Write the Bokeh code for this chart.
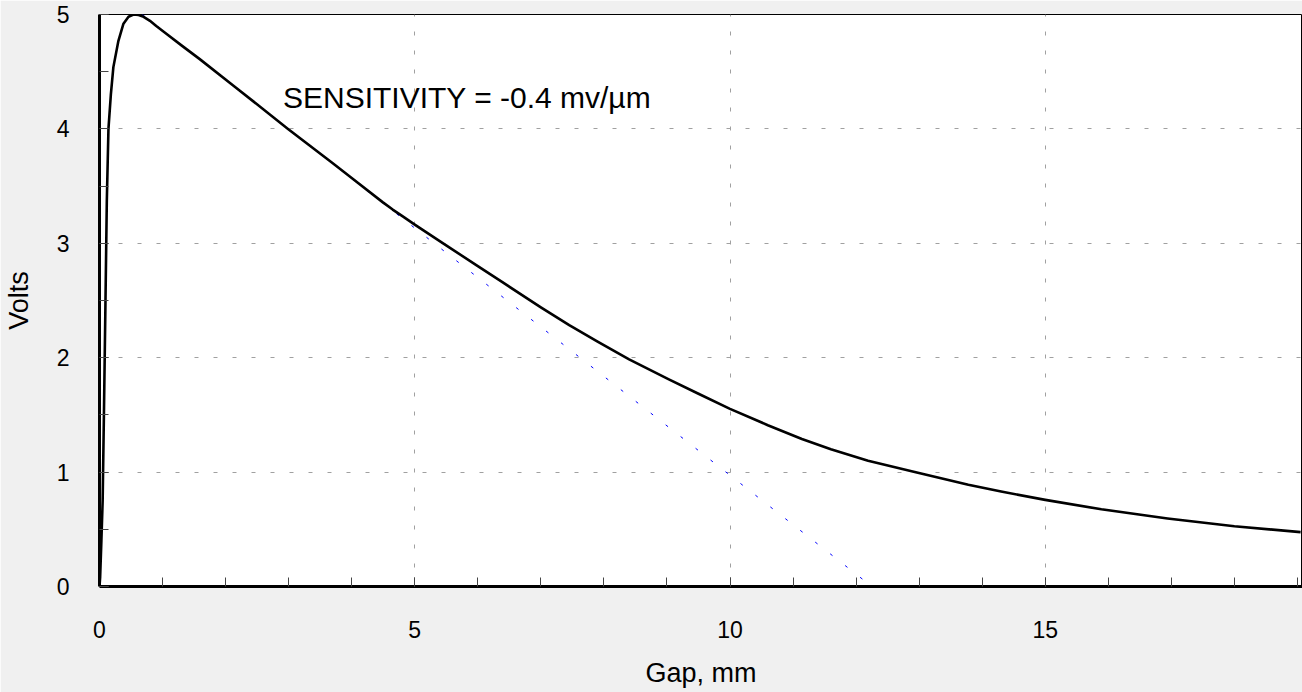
from bokeh.plotting import figure
from bokeh.models import SingleIntervalTicker, Label, Range1d
from bokeh.embed import file_html
from bokeh.resources import INLINE

# Measured response curve (Gap in mm, output in Volts)
gap_mm = [0, 0.01, 0.03, 0.05, 0.07, 0.095, 0.116, 0.142, 0.18, 0.22, 0.30, 0.38,
          0.46, 0.54, 0.62, 0.70, 0.80, 0.90, 1.065, 1.3, 1.59, 2.12, 2.99, 3.70,
          4.0, 4.49, 4.65, 4.81, 5.0, 5.45, 6.0, 6.39, 7.0, 7.45, 7.9, 8.40, 9.03,
          9.5, 10.0, 10.6, 11.14, 11.6, 12.19, 12.93, 13.78, 14.3, 15.0, 15.89,
          16.94, 18.0, 19.05]
volts = [0, 0.08, 0.4, 0.75, 1.5, 2.5, 3.37, 4.0, 4.3, 4.54, 4.77, 4.92,
         4.98, 5.0, 4.995, 4.98, 4.945, 4.90, 4.83, 4.73, 4.61, 4.38, 4.0, 3.70,
         3.57, 3.36, 3.295, 3.235, 3.163, 3.0, 2.80, 2.66, 2.44, 2.285, 2.14, 1.985,
         1.81, 1.685, 1.553, 1.41, 1.29, 1.20, 1.10, 1.0, 0.89, 0.83, 0.757, 0.675,
         0.595, 0.527, 0.475]

# Linear sensitivity fit line
fit_gap = [0.68, 12.25]
fit_volts = [5.0, 0.0]

annotation_text = "SENSITIVITY = -0.4 mv/\u00b5m"
annotation_pos = (2.91, 4.275)
x_label = "Gap, mm"
y_label = "Volts"

FONT = "Liberation Sans"

p = figure(width=1302, height=692, output_backend="svg", toolbar_location=None,
           x_range=Range1d(0, 19.08), y_range=Range1d(0, 5),
           min_border_left=96, min_border_right=0, min_border_top=14,
           min_border_bottom=106)

p.background_fill_color = "white"
p.border_fill_color = "#f0f0f0"
p.outline_line_color = "black"
p.outline_line_width = 1

p.line(fit_gap, fit_volts, line_color="#0000ff", line_width=1, line_dash="3 16")
p.line(gap_mm, volts, line_color="black", line_width=2.6, line_join="round")

p.xaxis.ticker = SingleIntervalTicker(interval=5, num_minor_ticks=5)
p.yaxis.ticker = SingleIntervalTicker(interval=1, num_minor_ticks=2)

for ax in (p.xaxis[0], p.yaxis[0]):
    ax.axis_line_color = "black"
    ax.axis_line_width = 3
    ax.major_tick_in = 9
    ax.major_tick_out = 0
    ax.minor_tick_in = 9
    ax.minor_tick_out = 0
    ax.major_tick_line_color = "#444444"
    ax.minor_tick_line_color = "#444444"
    ax.major_tick_line_width = 1
    ax.minor_tick_line_width = 1
    ax.major_label_text_font = FONT
    ax.major_label_text_font_size = "23px"
    ax.major_label_text_color = "black"
    ax.axis_label_text_font = FONT
    ax.axis_label_text_font_size = "27px"
    ax.axis_label_text_font_style = "normal"
    ax.axis_label_text_color = "black"

p.xaxis.axis_label = x_label
p.yaxis.axis_label = y_label
p.xaxis.major_label_standoff = 34
p.xaxis.axis_label_standoff = 17
p.yaxis.major_label_standoff = 30
p.yaxis.axis_label_standoff = 20

p.xgrid.grid_line_color = "#a0a0a0"
p.ygrid.grid_line_color = "#a0a0a0"
p.xgrid.grid_line_dash = "4 15"
p.ygrid.grid_line_dash = "4 15"
p.xgrid.grid_line_width = 1
p.ygrid.grid_line_width = 1

p.add_layout(Label(x=annotation_pos[0], y=annotation_pos[1], text=annotation_text,
                   text_font=FONT, text_font_size="30px", text_color="black",
                   text_baseline="alphabetic"))

open("out.html", "w").write(file_html(p, INLINE))
